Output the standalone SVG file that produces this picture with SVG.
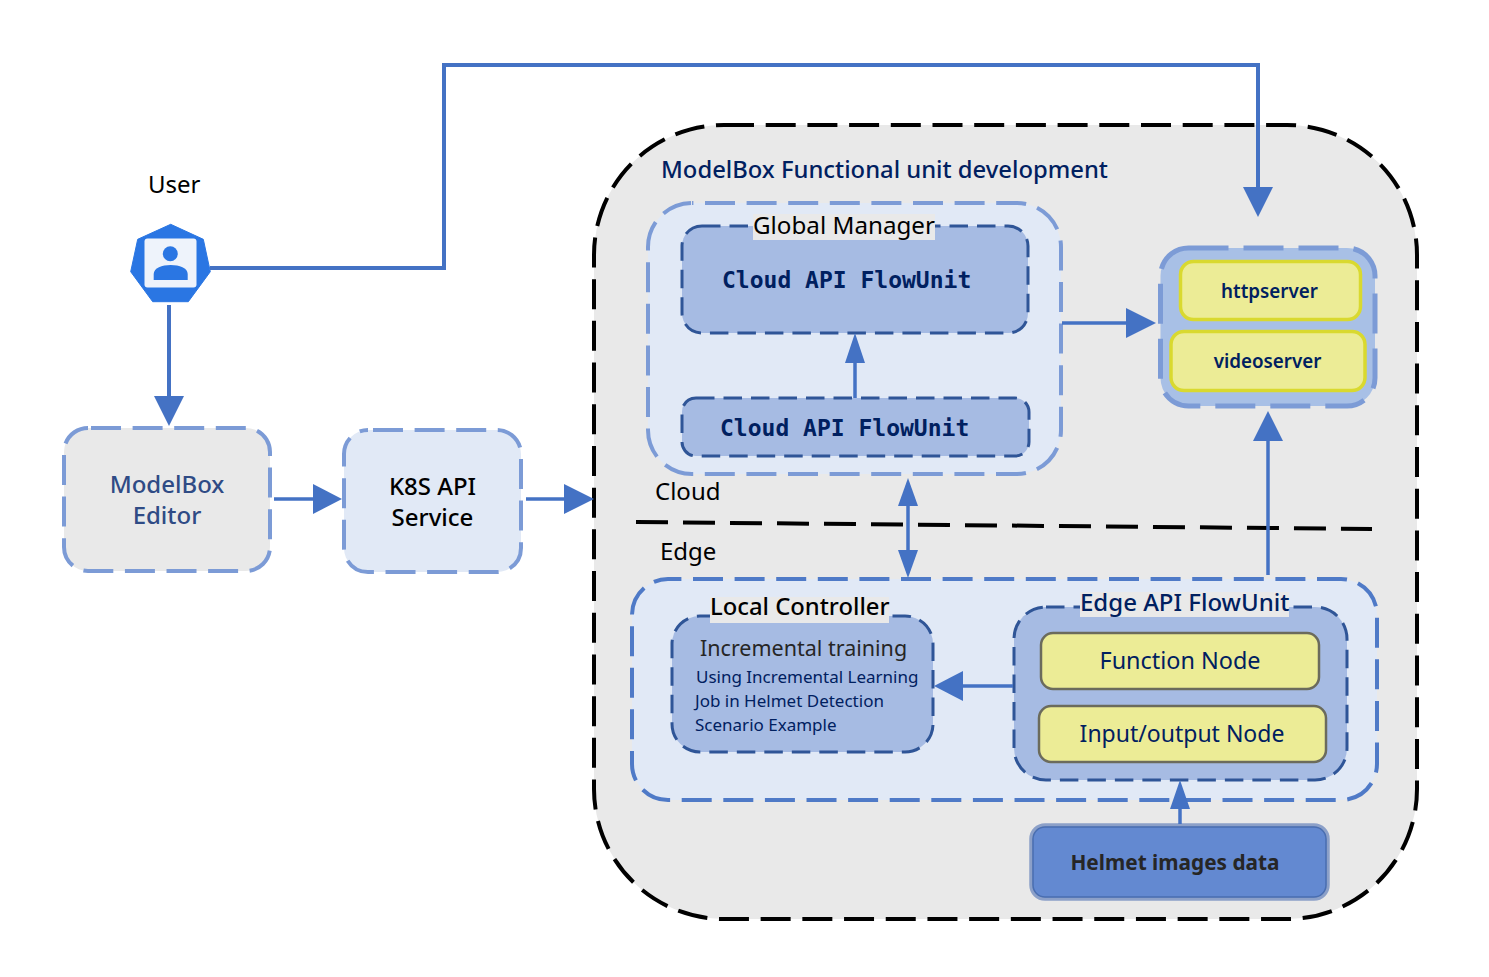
<svg xmlns="http://www.w3.org/2000/svg" width="1489" height="977" viewBox="0 0 1489 977">
<style>
text{font-family:"Noto Sans","Open Sans","Liberation Sans",sans-serif}
.mono{font-family:"DejaVu Sans Mono","Liberation Mono",monospace;font-weight:700;font-size:23px;fill:#002060}
.c{text-anchor:middle}
.lb{stroke:#7c9bd6;stroke-width:4;stroke-dasharray:30 11.6;fill:#e1e9f6}
.db{stroke:#2f5597;stroke-width:3;stroke-dasharray:18.500 9;fill:#a6bbe3}
.y1{fill:#ecec96;stroke:#d9d92f;stroke-width:3.5}
.y2{fill:#ecec96;stroke:#6b6b5c;stroke-width:2.5}
.cn{fill:none;stroke:#4472c4;stroke-width:4}
.thin{stroke-width:3.5}
.hd{fill:#4472c4;stroke:none}
.labelbg{fill:#e9e9e9}
</style>
<rect width="1489" height="977" fill="#fff"/>
<g id="outer">
<rect x="594" y="125" width="823" height="794" rx="130" ry="130" fill="#e9e9e9" stroke="#000" stroke-width="4" stroke-dasharray="30 11.700"/>
<text x="661" y="178" font-size="23.800" font-weight="500" fill="#002060">ModelBox Functional unit development</text>
<text x="655" y="500" font-size="24" fill="#000">Cloud</text>
<text x="660" y="560" font-size="24" fill="#000">Edge</text>
<path d="M636 522L1372 529" fill="none" stroke="#000" stroke-width="4" stroke-dasharray="32 15"/>
</g>
<g id="user">
<text x="148" y="193" font-size="24" fill="#000">User</text>
<polygon points="170.7,224.3 203.3,239.3 210.3,271.7 188.3,301.7 152.7,301.7 130.7,271.7 137.7,239.3" fill="#2a76e3" stroke="#2a76e3" stroke-width="1" stroke-linejoin="round"/>
<rect x="144.500" y="238.500" width="52" height="49" rx="3" fill="#eef3fb"/>
<circle cx="170.300" cy="253.700" r="7.500" fill="#2a76e3"/>
<path d="M153.700 280V274C153.700 268 162 265 170.700 265S187.700 268 187.700 274V280Z" fill="#2a76e3"/>
</g>
<g id="editor">
<rect class="lb" x="64" y="428" width="206" height="143" rx="24" style="fill:#e9e9e9;stroke-dashoffset:-3"/>
<text class="c" x="167" y="493" font-size="24" font-weight="500" fill="#2f4b85">ModelBox</text>
<text class="c" x="167" y="524" font-size="24" font-weight="500" fill="#2f4b85">Editor</text>
</g>
<g id="k8s">
<rect class="lb" x="344" y="430" width="177" height="142" rx="24" style="stroke-dashoffset:-5"/>
<text class="c" x="432.500" y="495" font-size="24" font-weight="500" fill="#000">K8S API</text>
<text class="c" x="432.500" y="526" font-size="24" font-weight="500" fill="#000">Service</text>
</g>
<g id="global-manager">
<rect class="lb" x="648" y="203" width="413" height="271" rx="44" style="stroke-dashoffset:-13"/>
<rect class="db" x="682" y="226" width="346" height="107" rx="20"/>
<rect class="labelbg" x="753" y="214" width="182" height="26"/>
<text x="753" y="233.500" font-size="24.200" fill="#000">Global Manager</text>
<text class="mono" x="722" y="288">Cloud API FlowUnit</text>
<rect class="db" x="682" y="398" width="347" height="58" rx="14"/>
<text class="mono" x="720" y="436">Cloud API FlowUnit</text>
</g>
<g id="servers">
<rect x="1160.500" y="248" width="214.500" height="158" rx="28" fill="#a8c0e6" stroke="#7c9bd6" stroke-width="5" stroke-dasharray="40 15"/>
<rect class="y1" x="1180.500" y="261.500" width="180" height="58" rx="13"/>
<text class="c" x="1269.500" y="298" font-size="18.800" font-weight="600" fill="#002060">httpserver</text>
<rect class="y1" x="1171" y="331.500" width="194" height="59" rx="13"/>
<text class="c" x="1267.500" y="368" font-size="18.800" font-weight="600" fill="#002060">videoserver</text>
</g>
<g id="edge">
<rect class="lb" x="632" y="579" width="745" height="221" rx="36" style="stroke:#4f7ac7;stroke-dashoffset:-25"/>
</g>
<g id="local-controller">
<rect class="db" x="672" y="616" width="261" height="136" rx="28"/>
<rect class="labelbg" x="710" y="597" width="179" height="26"/>
<text x="710" y="615" font-size="23.800" font-weight="500" fill="#000">Local Controller</text>
<text x="700" y="656" font-size="21.500" fill="#262626">Incremental training</text>
<text x="696" y="683" font-size="17" fill="#002060">Using Incremental Learning</text>
<text x="695" y="707" font-size="17" fill="#002060">Job in Helmet Detection</text>
<text x="695" y="731" font-size="17" fill="#002060">Scenario Example</text>
</g>
<g id="edge-flowunit">
<rect class="db" x="1014" y="607" width="333" height="173" rx="32"/>
<rect class="labelbg" x="1080" y="592" width="209" height="25"/>
<text x="1080" y="610.500" font-size="24" font-weight="500" fill="#002060">Edge API FlowUnit</text>
<rect class="y2" x="1041" y="633" width="278" height="56" rx="12"/>
<text class="c" x="1180" y="669" font-size="23.400" fill="#002060">Function Node</text>
<rect class="y2" x="1039" y="706" width="287" height="56" rx="12"/>
<text class="c" x="1182" y="742" font-size="23" fill="#002060">Input/output Node</text>
</g>
<g id="helmet">
<rect x="1031" y="825" width="297" height="74" rx="14" fill="#6389d1" stroke="#8ca0c8" stroke-width="3.500"/>
<rect x="1033" y="827" width="293" height="70" rx="12" fill="none" stroke="#4a6eb0" stroke-width="1.500"/>
<text class="c" x="1175" y="870" font-size="20.800" font-weight="700" fill="#262626">Helmet images data</text>
</g>
<g id="connectors">
<path class="cn" d="M210 268H444V65H1258V190"/>
<polygon class="hd" points="1243,187 1273,187 1258,217"/>
<path class="cn" d="M169 305V400"/>
<polygon class="hd" points="154,396 184,396 169,426"/>
<path class="cn thin" d="M274 499H316"/>
<polygon class="hd" points="313,484 342,499 313,514"/>
<path class="cn thin" d="M526 499H567"/>
<polygon class="hd" points="564,484 594,499 564,514"/>
<path class="cn thin" d="M1062 323H1130"/>
<polygon class="hd" points="1126,308 1156,323 1126,338"/>
<path class="cn thin" d="M1268 575V438"/>
<polygon class="hd" points="1253,441 1283,441 1268,411"/>
<path class="cn thin" d="M855 398V360"/>
<polygon class="hd" points="845,363 865,363 855,333"/>
<path class="cn thin" d="M908 503V553"/>
<polygon class="hd" points="898,506 918,506 908,478"/>
<polygon class="hd" points="898,550 918,550 908,578"/>
<path class="cn thin" d="M1013 686H960"/>
<polygon class="hd" points="963,671 963,701 934,686"/>
<path class="cn thin" d="M1180 824V806"/>
<polygon class="hd" points="1170,809 1190,809 1180,780"/>
</g>
</svg>
